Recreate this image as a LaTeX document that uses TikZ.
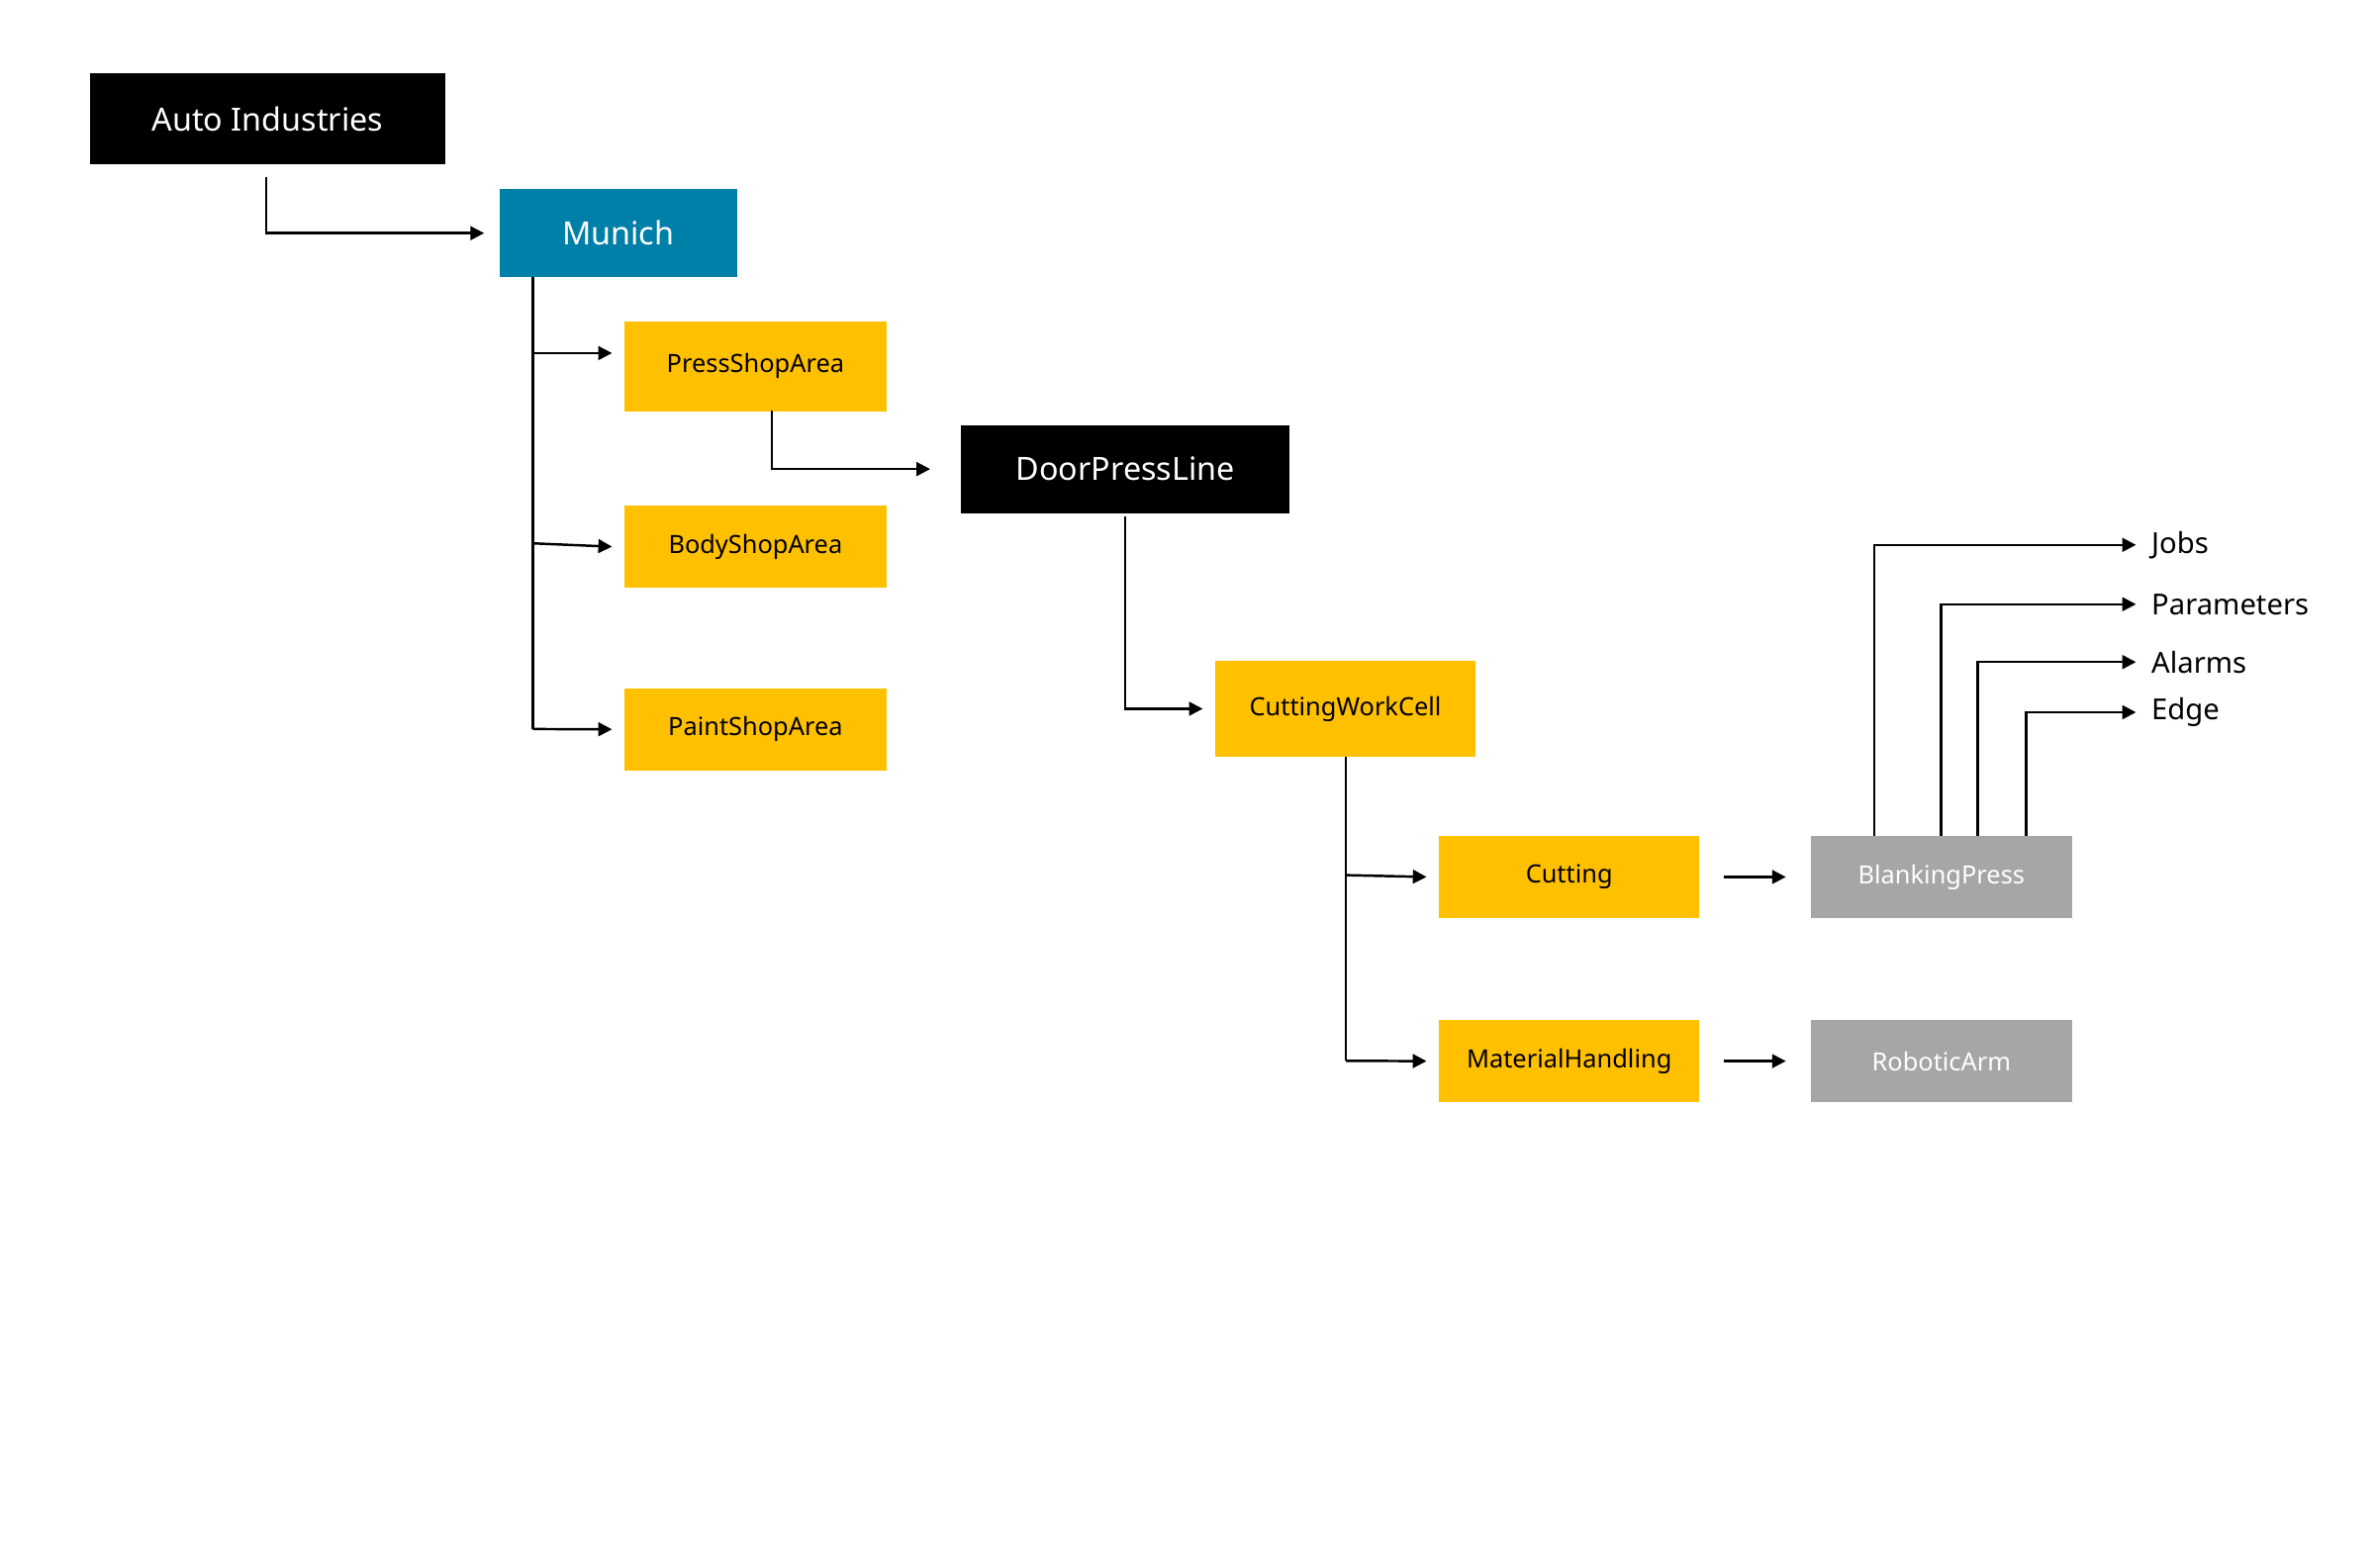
\documentclass[tikz,border=0pt]{standalone}
\usepackage{fontspec}
\setmainfont{Noto Sans}
\usetikzlibrary{arrows.meta}
\definecolor{blu}{RGB}{0,127,168}
\definecolor{yel}{RGB}{255,192,0}
\definecolor{gry}{RGB}{166,166,166}
\begin{document}
\begin{tikzpicture}[x=1pt,y=-1pt,
 box/.style={anchor=north west,inner sep=0pt,minimum width=#1,align=center},
 blk/.style={fill=black,text=white,font=\fontsize{21}{24}\selectfont},
 bl/.style={fill=blu,text=white,font=\fontsize{21}{24}\selectfont},
 yl/.style={fill=yel,text=black,font=\fontsize{16.5}{20}\selectfont},
 gr/.style={fill=gry,text=white,font=\fontsize{16.5}{20}\selectfont},
 lab/.style={anchor=west,inner sep=0pt,font=\fontsize{19}{22}\selectfont},
 ar/.style={draw,line width=1.6pt,-{Triangle[length=9pt,width=9pt]}}]
\useasboundingbox (0,0) rectangle (1560,1030);
\node[box=233,minimum height=60,blk] (auto) at (59,48) {Auto Industries};
\node[box=156,minimum height=58,bl] (mun) at (328,124) {Munich};
\node[box=172,minimum height=59,yl] (press) at (410,211) {PressShopArea};
\node[box=172,minimum height=54,yl] (body) at (410,332) {BodyShopArea};
\node[box=172,minimum height=54,yl] (paint) at (410,452) {PaintShopArea};
\node[box=216,minimum height=58,blk] (door) at (631,279) {DoorPressLine};
\node[box=171,minimum height=63,yl] (cwc) at (798,434) {CuttingWorkCell};
\node[box=171,minimum height=54,yl] (cut) at (945,549) {Cutting};
\node[box=171,minimum height=54,yl] (mat) at (945,670) {MaterialHandling};
\node[box=172,minimum height=54,gr] (blank) at (1189,549) {BlankingPress};
\node[box=172,minimum height=54,gr] (robot) at (1189,670) {RoboticArm};
\node[lab] (jobs) at (1413,358) {Jobs};
\node[lab] (par) at (1413,397) {Parameters};
\node[lab] (alm) at (1413,435) {Alarms};
\node[lab] (edge) at (1413,468) {Edge};
\draw[ar] (auto.south) ++(-1,8) |- ([xshift=-10]mun.west);
\draw[line width=1.6pt] (350,182) -- (350,479);
\draw[ar] (350,232) -- ([xshift=-8]press.west|-350,232);
\draw[ar] (350,357) -- ([xshift=-8]body.west);
\draw[ar] (350,479) -- ([xshift=-8]paint.west);
\draw[ar] (507,270) |- ([xshift=-20]door.west);
\draw[ar] (739,339) |- ([xshift=-8]cwc.west);
\draw[line width=1.6pt] (884,497) -- (884,697);
\draw[ar] (884,575) -- ([xshift=-8]cut.west);
\draw[ar] (884,697) -- ([xshift=-8]mat.west);
\draw[ar] ([xshift=16]cut.east) -- ([xshift=-16]blank.west);
\draw[ar] ([xshift=16]mat.east) -- ([xshift=-16]robot.west);
\draw[ar] (1231,549) |- ([xshift=-10]jobs.west);
\draw[ar] (1275,549) |- ([xshift=-10]par.west);
\draw[ar] (1299,549) |- ([xshift=-10]alm.west);
\draw[ar] (1331,549) |- ([xshift=-10]edge.west);
\end{tikzpicture}
\end{document}
